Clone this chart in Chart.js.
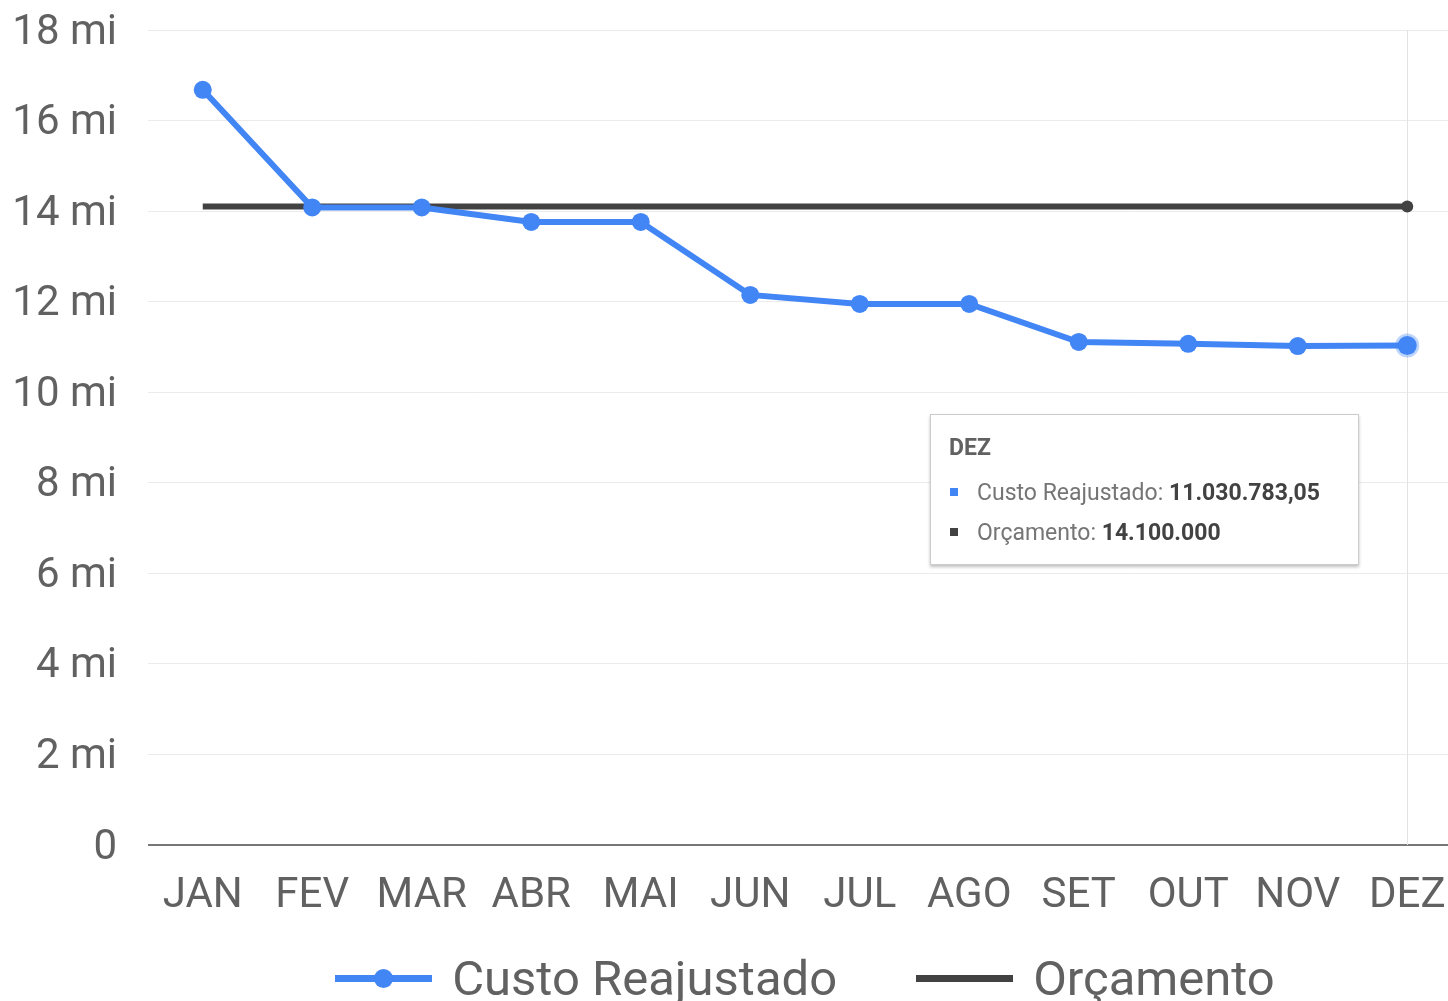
<!DOCTYPE html>
<html>
<head>
<meta charset="utf-8">
<script src="https://cdn.jsdelivr.net/npm/chart.js@4.4.0/dist/chart.umd.min.js"></script>
<style>
  html, body { margin: 0; padding: 0; overflow: hidden; background: #fff; }
  #wrap { position: relative; width: 1610px; height: 1001px; }
  #tip {
    position: absolute; display: none; box-sizing: border-box;
    width: 429px; height: 151px; background: #fff;
    border: 1px solid #cccccc; box-shadow: 0 2px 3px rgba(0,0,0,0.25);
    font-family: Roboto, sans-serif; color: #757575; font-size: 23px;
    padding: 20px 0 0 18px;
  }
  #tip .t { font-weight: bold; color: #616161; line-height: 26px; height: 26px; margin-bottom: 17px; }
  #tip .r { height: 40px; line-height: 30px; white-space: nowrap; }
  #tip .sq { display: inline-block; width: 8px; height: 8px; margin: 0 19px 3px 1px; vertical-align: middle; }
  #tip b { color: #424242; }
  #legend {
    position: absolute; left: 0; top: 949px; width: 1610px; height: 58px;
    display: flex; justify-content: center; align-items: center;
    font-family: Roboto, sans-serif; font-size: 49px; color: #616161; white-space: nowrap;
  }
  #legend .item { display: flex; align-items: center; height: 58px; }
  #legend .item + .item { margin-left: 79px; }
  #legend .sw { position: relative; width: 97px; height: 7px; margin-right: 20px; }
  #legend .dot { position: absolute; left: 39px; top: -6px; width: 19px; height: 19px; border-radius: 50%; }
</style>
</head>
<body>
<div id="wrap"><canvas id="mycanvas"></canvas><div id="tip"></div><div id="legend"></div></div>
<script>
var months = ['JAN', 'FEV', 'MAR', 'ABR', 'MAI', 'JUN', 'JUL', 'AGO', 'SET', 'OUT', 'NOV', 'DEZ'];
var custoReajustado = [16680000, 14080000, 14080000, 13760000, 13760000, 12150000,
                       11950000, 11950000, 11110000, 11070000, 11020000, 11030783.05];
var orcamento = [14100000, 14100000, 14100000, 14100000, 14100000, 14100000,
                 14100000, 14100000, 14100000, 14100000, 14100000, 14100000];
var yTicks = [0, 2, 4, 6, 8, 10, 12, 14, 16, 18];
var activeIndex = 11;

var blue = '#4285f4';
var dark = '#424242';
var textColor = '#616161';

// numero no formato pt-BR
function fmt(v) {
  var neg = v < 0; v = Math.abs(v);
  var inteiro = Math.floor(v);
  var dec = Math.round((v - inteiro) * 100);
  var s = String(inteiro).replace(/\B(?=(\d{3})+(?!\d))/g, '.');
  if (dec > 0) s += ',' + (dec < 10 ? '0' + dec : dec);
  return (neg ? '-' : '') + s;
}

var crosshair = {
  id: 'crosshair',
  beforeDatasetsDraw: function(chart) {
    var x = chart.scales.x.getPixelForValue(activeIndex);
    var a = chart.chartArea, ctx = chart.ctx;
    ctx.save();
    ctx.strokeStyle = '#e3e3e3';
    ctx.lineWidth = 1;
    ctx.beginPath();
    ctx.moveTo(Math.round(x) + 0.5, a.top);
    ctx.lineTo(Math.round(x) + 0.5, a.bottom);
    ctx.stroke();
    ctx.restore();
  },
  // anel claro do ponto em destaque
  afterDatasetsDraw: function(chart) {
    var p = chart.getDatasetMeta(0).data[activeIndex];
    var ctx = chart.ctx;
    ctx.save();
    ctx.strokeStyle = 'rgba(66,133,244,0.35)';
    ctx.lineWidth = 3;
    ctx.beginPath();
    ctx.arc(p.x, p.y, 10.5, 0, Math.PI * 2);
    ctx.stroke();
    ctx.restore();
  }
};

function externalTip(context) {
  var t = context.tooltip;
  var el = document.getElementById('tip');
  if (t.opacity === 0 || !t.dataPoints || !t.dataPoints.length) { el.style.display = 'none'; return; }
  var p = t.dataPoints[0].element;
  var html = '<div class="t">' + t.dataPoints[0].label + '</div>';
  t.dataPoints.forEach(function(dp) {
    var col = dp.datasetIndex === 0 ? blue : dark;
    html += '<div class="r"><span class="sq" style="background:' + col + '"></span>' +
            dp.dataset.label + ': <b>' + fmt(dp.raw) + '</b></div>';
  });
  el.innerHTML = html;
  el.style.left = Math.round(p.x - 477) + 'px';
  el.style.top = Math.round(p.y + 68) + 'px';
  el.style.display = 'block';
}

var ctx = document.getElementById('mycanvas');
var chart = new Chart(ctx, {
  type: 'line',
  data: {
    labels: months,
    datasets: [
      {
        label: 'Custo Reajustado',
        data: custoReajustado,
        borderColor: blue,
        backgroundColor: blue,
        borderWidth: 6,
        pointRadius: 9,
        pointHoverRadius: 9.5,
        pointBorderWidth: 0,
        pointHoverBorderWidth: 0,
        pointBackgroundColor: blue,
        pointHoverBackgroundColor: blue,
        tension: 0
      },
      {
        label: 'Orçamento',
        data: orcamento,
        borderColor: dark,
        backgroundColor: dark,
        borderWidth: 6,
        pointRadius: 0,
        pointHoverRadius: 6,
        pointBorderWidth: 0,
        pointHoverBorderWidth: 0,
        pointHoverBackgroundColor: dark,
        tension: 0
      }
    ]
  },
  options: {
    responsive: true,
    maintainAspectRatio: false,
    animation: false,
    events: [],
    layout: { padding: { left: 0, right: 148, top: 30, bottom: 0 } },
    interaction: { mode: 'index', intersect: false },
    scales: {
      x: {
        offset: true,
        grid: { display: false, drawTicks: false },
        border: { display: false },
        ticks: {
          color: textColor,
          padding: 26,
          maxRotation: 0,
          autoSkip: false,
          font: { family: 'Roboto', size: 42 }
        },
        afterFit: function(scale) { scale.height = 156; }
      },
      y: {
        min: 0,
        max: 18000000,
        grid: {
          drawTicks: false,
          color: function(c) { return c.tick && c.tick.value === 0 ? '#777777' : '#ebebeb'; },
          lineWidth: function(c) { return c.tick && c.tick.value === 0 ? 2 : 1; }
        },
        border: { display: false },
        ticks: {
          stepSize: 1000000,
          padding: 31,
          labelOffset: 3,
          color: textColor,
          font: { family: 'Roboto', size: 42 },
          callback: function(v) {
            var m = v / 1000000;
            if (yTicks.indexOf(m) < 0) return '';
            return m === 0 ? '0' : m + ' mi';
          }
        },
        afterFit: function(scale) {
          scale.width = 148;
          scale.paddingTop = 0;
          scale.paddingBottom = 0;
        }
      }
    },
    plugins: {
      legend: { display: false },
      tooltip: {
        enabled: false,
        external: externalTip
      }
    }
  },
  plugins: [crosshair]
});

// legenda em HTML, gerada dos datasets
var leg = document.getElementById('legend');
chart.data.datasets.forEach(function(ds, i) {
  var item = document.createElement('div');
  item.className = 'item';
  var sw = '<span class="sw" style="background:' + ds.borderColor + '">' +
           (i === 0 ? '<span class="dot" style="background:' + ds.borderColor + '"></span>' : '') + '</span>';
  item.innerHTML = sw + '<span>' + ds.label + '</span>';
  leg.appendChild(item);
});

var act = [{ datasetIndex: 0, index: activeIndex }, { datasetIndex: 1, index: activeIndex }];
chart.setActiveElements(act);
chart.tooltip.setActiveElements(act, { x: 0, y: 0 });
chart.update('none');
</script>
</body>
</html>
